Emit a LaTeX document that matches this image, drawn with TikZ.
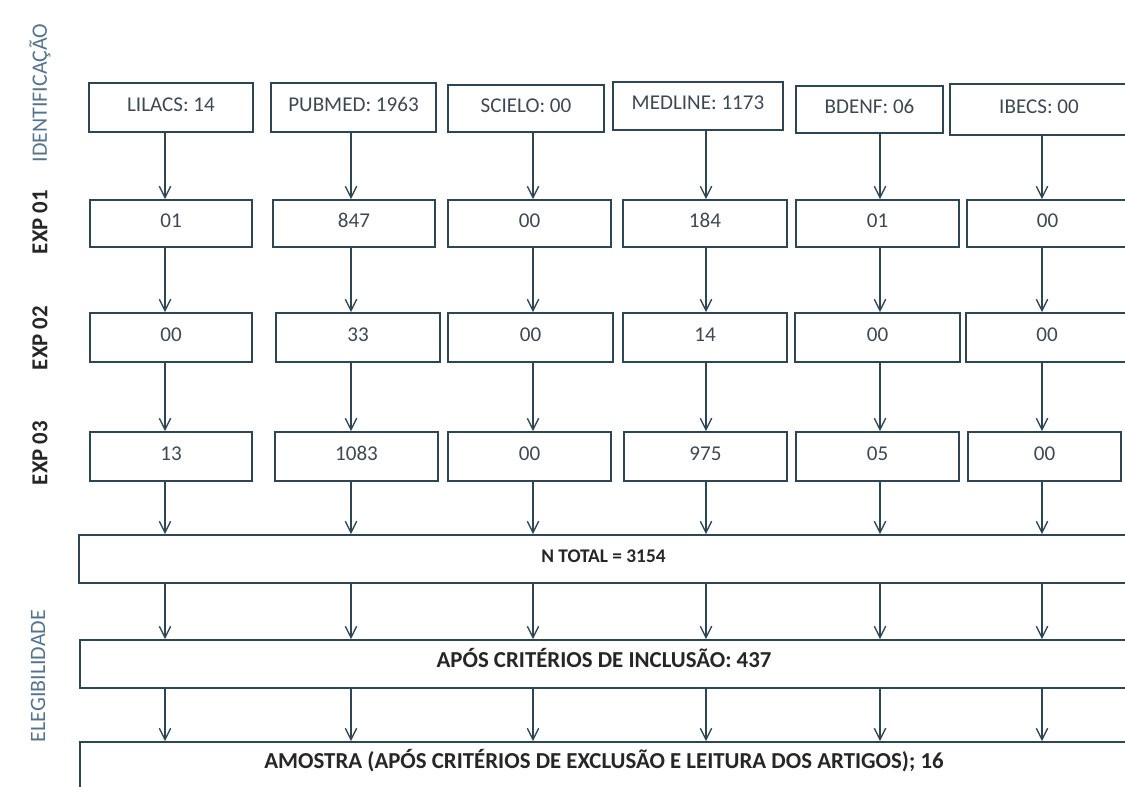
\documentclass[tikz,border=0pt]{standalone}
\usepackage{fontspec}
\setmainfont{Carlito}
\usetikzlibrary{arrows.meta}
\definecolor{edge}{HTML}{2E4654}
\definecolor{ink}{HTML}{3E4852}
\definecolor{stage}{HTML}{56738E}
\begin{document}
\begin{tikzpicture}[x=0.02cm,y=-0.02cm,
	conn/.style={draw=edge,line width=0.75pt,-{Straight Barb[length=6.5pt,width=6.5pt]}},
	span/.style n args={4}{at={({(#1+#3)/2},{(#2+#4)/2})},
		minimum width={(#3-#1)*0.02cm},minimum height={(#4-#2)*0.02cm}},
	box/.style={rectangle,draw=edge,line width=1pt,inner sep=0pt,text=ink,
		text height=1.5ex,text depth=0.6ex,font=\fontsize{12}{14}\selectfont},
	wide/.style={box,text=black!85,font=\bfseries\fontsize{13}{15}\selectfont},
	phase/.style={rotate=90,text=stage,font=\fontsize{12.5}{15}\selectfont},
	expl/.style={rotate=90,text=black!85,font=\bfseries\fontsize{13}{15}\selectfont}]
\useasboundingbox (0,0) rectangle (1125,787);
\clip (0,0) rectangle (1125,787);
% stage labels
\node[phase](ident) at (40,93){IDENTIFICAÇÃO};
\node[expl](exp1) at (40,222){EXP 01};
\node[expl](exp2) at (40,338){EXP 02};
\node[expl](exp3) at (40,453){EXP 03};
\node[phase](eleg) at (38,676){ELEGIBILIDADE};
% databases
\node[box,span={89}{83}{253}{132}](lil0){LILACS: 14};
\node[box,span={271}{83}{436}{132}](pub0){PUBMED: 1963};
\node[box,span={448}{85}{604}{132}](sci0){SCIELO: 00};
\node[box,span={613}{82}{783}{130}](med0){MEDLINE: 1173};
\node[box,span={796}{86}{943}{133}](bde0){BDENF: 06};
\node[box,span={950}{84}{1128}{135}](ibe0){IBECS: 00};
% EXP 01
\node[box,span={90}{200}{252}{247}](lil1){01};
\node[box,span={273}{200}{435}{247}](pub1){847};
\node[box,span={448}{200}{611}{247}](sci1){00};
\node[box,span={623}{200}{787}{247}](med1){184};
\node[box,span={796}{200}{959}{247}](bde1){01};
\node[box,span={967}{200}{1128}{247}](ibe1){00};
% EXP 02
\node[box,span={90}{313}{252}{362}](lil2){00};
\node[box,span={276}{313}{440}{362}](pub2){33};
\node[box,span={448}{313}{613}{362}](sci2){00};
\node[box,span={623}{313}{787}{362}](med2){14};
\node[box,span={795}{313}{960}{362}](bde2){00};
\node[box,span={966}{313}{1128}{362}](ibe2){00};
% EXP 03
\node[box,span={90}{432}{252}{481}](lil3){13};
\node[box,span={275}{432}{438}{481}](pub3){1083};
\node[box,span={448}{432}{611}{481}](sci3){00};
\node[box,span={624}{432}{787}{481}](med3){975};
\node[box,span={796}{432}{959}{481}](bde3){05};
\node[box,span={968}{432}{1121}{481}](ibe3){00};
% eligibility
\node[wide,span={79}{535}{1128}{583},font=\bfseries\fontsize{11}{13}\selectfont](total){N TOTAL = 3154};
\node[wide,span={80}{640}{1128}{688}](incl){APÓS CRITÉRIOS DE INCLUSÃO: 437};
\node[wide,span={80}{742}{1128}{788}](amostra){AMOSTRA (APÓS CRITÉRIOS DE EXCLUSÃO E LEITURA DOS ARTIGOS); 16};
% arrow columns
\coordinate(k1) at (165,0);
\coordinate(k2) at (351,0);
\coordinate(k3) at (533,0);
\coordinate(k4) at (706,0);
\coordinate(k5) at (880,0);
\coordinate(k6) at (1042,0);
\foreach \c/\k in {lil/k1,pub/k2,sci/k3,med/k4,bde/k5,ibe/k6}{
	\draw[conn](\c0.south -| \k) to (\c1.north -| \k);
	\draw[conn](\c1.south -| \k) to (\c2.north -| \k);
	\draw[conn](\c2.south -| \k) to (\c3.north -| \k);
	\draw[conn](\c3.south -| \k) to (total.north -| \k);
	\draw[conn](total.south -| \k) to (incl.north -| \k);
	\draw[conn](incl.south -| \k) to (amostra.north -| \k);
}
\end{tikzpicture}
\end{document}
